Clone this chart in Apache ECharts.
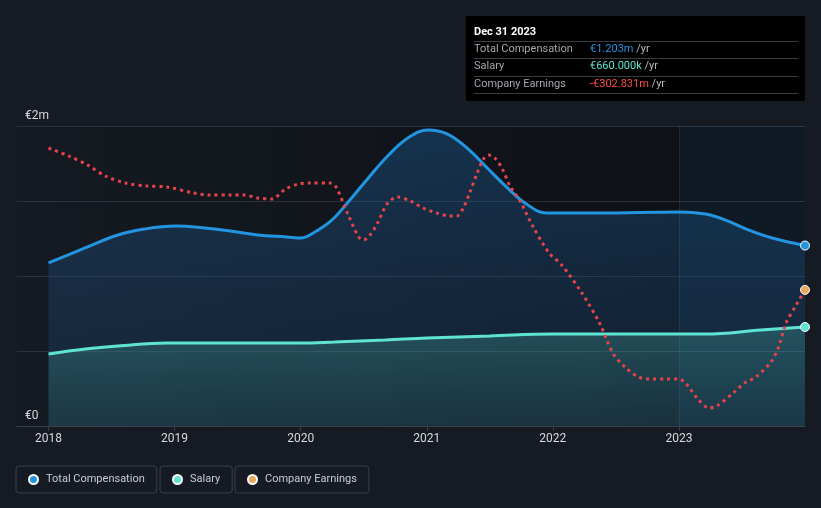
<!DOCTYPE html>
<html><head><meta charset="utf-8">
<script src="https://cdn.jsdelivr.net/npm/echarts@6/dist/echarts.min.js"></script>
<style>html,body{margin:0;padding:0;background:#151a23;}#c{width:821px;height:508px;}</style>
</head><body><div id="c"></div>
<script>
// Years (decimal) and values
const compYears = [2018.00,2018.29,2018.55,2018.76,2019.01,2019.24,2019.44,2019.66,2019.89,2020.00,2020.10,2020.24,2020.37,2020.53,2020.69,2020.85,2021.01,2021.16,2021.32,2021.48,2021.64,2021.79,2021.95,2022.36,2023.00,2023.21,2023.37,2023.55,2023.74,2024.00];
const compValues = [1.087,1.187,1.273,1.313,1.333,1.320,1.300,1.273,1.260,1.253,1.287,1.367,1.487,1.647,1.800,1.920,1.973,1.947,1.853,1.720,1.587,1.480,1.420,1.420,1.427,1.413,1.373,1.307,1.253,1.203];

const salaryYears = [2018.00,2018.29,2018.55,2018.94,2020.00,2020.27,2020.67,2021.00,2021.50,2022.00,2023.00,2023.21,2023.65,2024.00];
const salaryValues = [0.480,0.513,0.533,0.553,0.553,0.560,0.573,0.587,0.600,0.613,0.613,0.613,0.640,0.660];

// Company earnings in €m (plotted on its own hidden scale)
const earnYears = [2018.00,2018.16,2018.31,2018.45,2018.61,2018.78,2018.94,2019.15,2019.27,2019.44,2019.55,2019.66,2019.77,2019.88,2019.98,2020.07,2020.23,2020.28,2020.37,2020.46,2020.50,2020.55,2020.61,2020.69,2020.77,2020.87,2020.97,2021.08,2021.18,2021.24,2021.29,2021.34,2021.40,2021.45,2021.49,2021.54,2021.60,2021.66,2021.74,2021.84,2021.97,2022.07,2022.23,2022.37,2022.48,2022.59,2022.68,2022.77,2022.90,2023.00,2023.06,2023.15,2023.24,2023.30,2023.43,2023.52,2023.61,2023.73,2023.79,2023.85,2023.93,2024.00];
const earnValues = [-19,-35,-53,-75,-89,-95,-97,-109,-113,-113,-113,-119,-121,-101,-91,-89,-89,-97,-149,-197,-203,-193,-169,-129,-117,-125,-139,-149,-155,-155,-139,-109,-69,-41,-33,-39,-61,-95,-125,-175,-229,-253,-309,-369,-431,-461,-477,-481,-481,-481,-491,-521,-539,-535,-509,-489,-477,-447,-417,-369,-333,-302.831];

const xTicks = [2018,2019,2020,2021,2022,2023];

const zip = (a,b)=>a.map((x,i)=>[x,b[i]]);
const endSize = (n)=>function(v,p){return p.dataIndex===n-1?9:0;};

const chart = echarts.init(document.getElementById('c'));
const legendBase = {top:466, padding:[8,12,8,12], borderColor:'#3a404b', borderWidth:1, borderRadius:3,
  itemWidth:9, itemHeight:9, icon:'circle', textStyle:{color:'#c9cdd3', fontSize:11, fontFamily:'Roboto', padding:[0,0,0,3]}, selectedMode:false};
chart.setOption({
  backgroundColor:'#151a23',
  animation:false,
  grid:{left:17,right:16,top:126,bottom:82,show:true,borderWidth:0,
    backgroundColor:new echarts.graphic.LinearGradient(0,0,1,0,[{offset:0,color:'#151a22'},{offset:0.84,color:'#0e1116'},{offset:1,color:'#0e1116'}])},
  legend:[
    Object.assign({},legendBase,{left:16,data:['Total Compensation']}),
    Object.assign({},legendBase,{left:160,data:['Salary']}),
    Object.assign({},legendBase,{left:235,data:['Company Earnings']})
  ],
  xAxis:{type:'value',min:2017.75,max:2024,
    axisLine:{lineStyle:{color:'#3a3f48'}},
    axisTick:{show:true,customValues:xTicks,length:5,lineStyle:{color:'#3a3f48'}},
    axisLabel:{customValues:xTicks,color:'#d6d9de',fontSize:12,fontFamily:'Roboto',margin:7,formatter:v=>String(v)},
    splitLine:{show:false}},
  yAxis:[{type:'value',min:0,max:2,interval:0.5,
    axisLine:{show:false},axisTick:{show:false},
    axisLabel:{inside:true,verticalAlign:'bottom',margin:8,color:'#d6d9de',fontSize:12,fontFamily:'Roboto',padding:[0,0,4,0],
      formatter:v=>v===0?'€0':(v===2?'€2m':'')},
    splitLine:{lineStyle:{color:'#2b3039',width:1}}},
    {type:'value',min:-575,max:25,show:false,splitLine:{show:false}}],
  series:[
    {name:'Total Compensation',type:'line',smooth:0.4,data:zip(compYears,compValues),
      showAllSymbol:true,symbol:'circle',symbolSize:endSize(compYears.length),
      itemStyle:{color:'#2394e0',borderColor:'#ffffff',borderWidth:1},
      lineStyle:{color:'#2394e0',width:3},
      areaStyle:{color:new echarts.graphic.LinearGradient(0,0,0,1,[{offset:0,color:'rgba(30,105,170,0.5)'},{offset:1,color:'rgba(30,85,140,0.28)'}])},
      markArea:{silent:true,itemStyle:{color:'rgba(40,110,170,0.10)'},data:[[{xAxis:2023},{xAxis:2024}]]},
      markLine:{silent:true,symbol:'none',label:{show:false},lineStyle:{color:'rgba(120,160,200,0.12)',type:'solid',width:1},data:[{xAxis:2023}]}
    },
    {name:'Salary',type:'line',smooth:0.4,data:zip(salaryYears,salaryValues),
      showAllSymbol:true,symbol:'circle',symbolSize:endSize(salaryYears.length),
      itemStyle:{color:'#5fe3d2',borderColor:'#ffffff',borderWidth:1},
      lineStyle:{color:'#5fe3d2',width:3},
      areaStyle:{color:new echarts.graphic.LinearGradient(0,0,0,1,[{offset:0,color:'rgba(75,180,170,0.42)'},{offset:1,color:'rgba(60,140,140,0.25)'}])}
    },
    {name:'Company Earnings',type:'line',yAxisIndex:1,smooth:0.3,data:zip(earnYears,earnValues),
      showAllSymbol:true,symbol:'circle',symbolSize:endSize(earnYears.length),
      itemStyle:{color:'#e9a85c',borderColor:'#ffffff',borderWidth:1},
      lineStyle:{color:'#e8434b',width:3,type:[3,4]}
    }
  ],
  graphic:[
    {type:'rect',left:466,top:16,shape:{width:339,height:85},style:{fill:'#000000'}},
    {type:'text',left:474,top:27,style:{text:'Dec 31 2023',fill:'#ffffff',font:'bold 11px Roboto'}},
    {type:'line',shape:{x1:474,y1:41.5,x2:798,y2:41.5},style:{stroke:'#3a3d42',lineWidth:1}},
    {type:'line',shape:{x1:474,y1:58.5,x2:798,y2:58.5},style:{stroke:'#3a3d42',lineWidth:1}},
    {type:'line',shape:{x1:474,y1:76.5,x2:798,y2:76.5},style:{stroke:'#3a3d42',lineWidth:1}},
    {type:'line',shape:{x1:474,y1:93.5,x2:798,y2:93.5},style:{stroke:'#3a3d42',lineWidth:1}},
    {type:'text',left:474,top:44,style:{text:'Total Compensation',fill:'#a3a7ad',font:'11px Roboto'}},
    {type:'text',left:474,top:61,style:{text:'Salary',fill:'#a3a7ad',font:'11px Roboto'}},
    {type:'text',left:474,top:79,style:{text:'Company Earnings',fill:'#a3a7ad',font:'11px Roboto'}},
    {type:'text',left:590,top:44,style:{text:'{v|€1.203m} {u|/yr}',font:'11px Roboto',rich:{v:{fill:'#2394e0',font:'11px Roboto'},u:{fill:'#b4b8be',font:'11px Roboto'}}}},
    {type:'text',left:590,top:61,style:{text:'{v|€660.000k} {u|/yr}',font:'11px Roboto',rich:{v:{fill:'#5fe3d2',font:'11px Roboto'},u:{fill:'#b4b8be',font:'11px Roboto'}}}},
    {type:'text',left:590,top:79,style:{text:'{v|-€302.831m} {u|/yr}',font:'11px Roboto',rich:{v:{fill:'#ff4a4a',font:'11px Roboto'},u:{fill:'#b4b8be',font:'11px Roboto'}}}}
  ]
});
</script></body></html>
